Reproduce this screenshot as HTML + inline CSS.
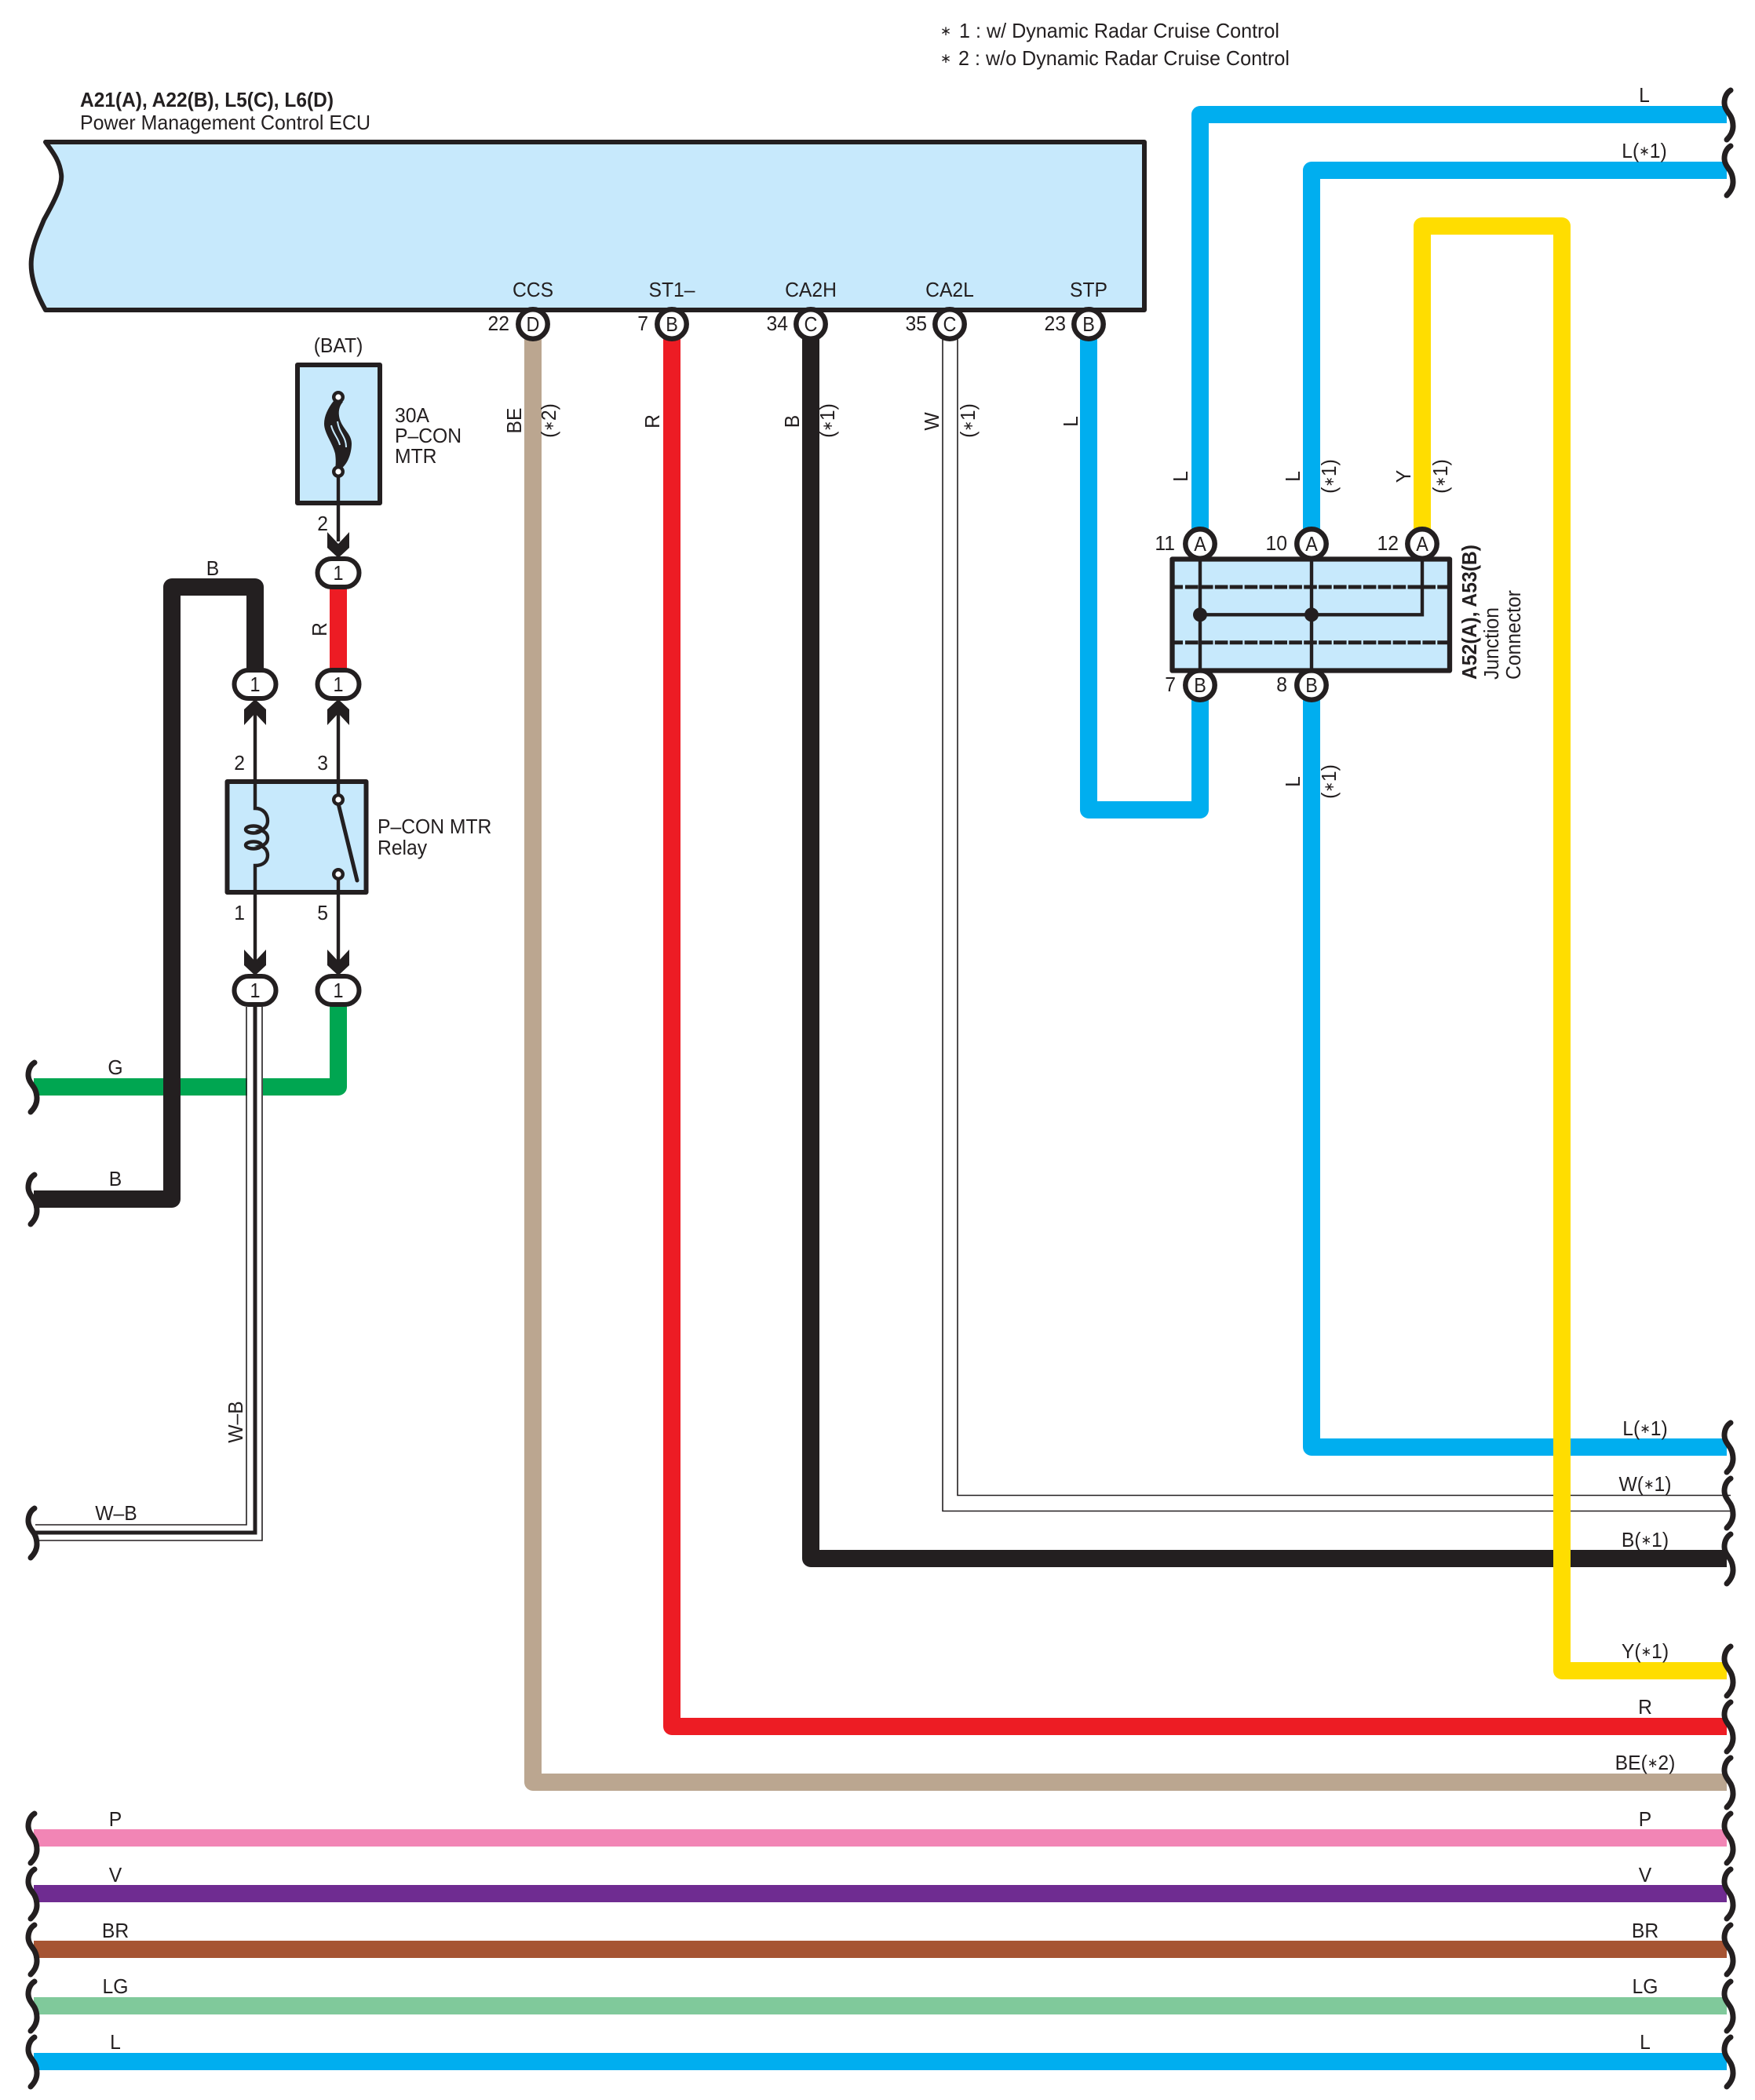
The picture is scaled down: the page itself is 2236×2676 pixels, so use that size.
<!DOCTYPE html>
<html><head><meta charset="utf-8"><style>
html,body{margin:0;padding:0;background:#fff}
svg{display:block}
text{font-family:"Liberation Sans","DejaVu Sans",sans-serif;font-size:26px;fill:#231f20}
.m{text-anchor:middle}.e{text-anchor:end}.b{font-weight:bold}
.s{font-size:17px}
.w{fill:none;stroke-width:22;stroke-linejoin:round}
.t{fill:none;stroke:#231f20;stroke-width:4.4}
.box{fill:#c7e9fc;stroke:#231f20;stroke-width:6;stroke-linejoin:round}
.pin{fill:#fff;stroke:#231f20;stroke-width:6.5}
.con{fill:#fff;stroke:#231f20;stroke-width:6}
.thin{fill:none;stroke:#231f20;stroke-width:1.6}
</style></head><body>
<svg width="2236" height="2676" viewBox="0 0 2236 2676" xmlns="http://www.w3.org/2000/svg">
<defs>
<path id="br" d="M3,-31C-2,-28 -5,-22 -5,-15C-5,-8 0,-3 3,2C5,6 6,10 6,15C6,22 2,28 -2,32" fill="none" stroke="#231f20" stroke-width="7" stroke-linecap="round"/>
<path id="ad" d="M-14,0L0,15L14,0V20L0,33L-14,20Z" fill="#231f20"/>
<path id="au" d="M-14,0L0,-15L14,0V-20L0,-33L-14,-20Z" fill="#231f20"/>
</defs>
<rect width="2236" height="2676" fill="#fff"/>

<!-- ECU -->
<path class="box" d="M58,181H1458V395H58C45,372 38,350 40,330C42,310 50,295 56,280C70,255 80,235 78,222C76,205 68,195 58,181Z"/>

<!-- wires -->
<g class="w">
<path stroke="#00aeef" d="M1529,675V146H2200"/>
<path stroke="#00aeef" d="M1671,675V217H2200"/>
<path stroke="#00aeef" d="M1387,430V1032H1529V888"/>
<path stroke="#00aeef" d="M1671,888V1844H2200"/>
<path stroke="#bba690" d="M679,430V2271H2200"/>
<path stroke="#ed1c24" d="M856,430V2200H2200"/>
<path stroke="#231f20" d="M1033,430V1986H2200"/>
<path stroke="#00a651" d="M43,1385H431V1280"/>
<path stroke="#ed1c24" d="M431,745V855"/>
<path stroke="#231f20" d="M325,855V748H219V1528H43"/>
<path stroke="#f285b5" d="M43,2342H2200"/>
<path stroke="#6f2c91" d="M43,2413H2200"/>
<path stroke="#a65433" d="M43,2484H2200"/>
<path stroke="#80c99b" d="M43,2556H2200"/>
<path stroke="#00aeef" d="M43,2627H2200"/>
</g>
<!-- W double wire -->
<path class="thin" d="M1220,432V1905.500H2205"/>
<path class="thin" d="M1201,432V1925.500H2205"/>
<!-- yellow on top -->
<path class="w" stroke="#ffdd00" d="M1812,675V288H1990V2129H2200"/>
<!-- W-B -->
<path fill="none" stroke="#fff" stroke-width="20" d="M325,1283V1953H45"/>
<path class="thin" d="M314,1283V1943H45"/>
<path class="thin" d="M334,1283V1963H45"/>
<path fill="none" stroke="#231f20" stroke-width="5" d="M325,1283V1953H45"/>

<!-- braces -->
<g>
<use href="#br" x="2202" y="146"/><use href="#br" x="2202" y="217"/>
<use href="#br" x="2202" y="1844"/><use href="#br" x="2202" y="1915"/><use href="#br" x="2202" y="1986"/>
<use href="#br" x="2202" y="2129"/><use href="#br" x="2202" y="2200"/><use href="#br" x="2202" y="2271"/>
<use href="#br" x="2202" y="2342"/><use href="#br" x="2202" y="2413"/><use href="#br" x="2202" y="2484"/>
<use href="#br" x="2202" y="2556"/><use href="#br" x="2202" y="2627"/>
<use href="#br" x="41" y="1385"/><use href="#br" x="41" y="1528"/><use href="#br" x="41" y="1953"/>
<use href="#br" x="41" y="2342"/><use href="#br" x="41" y="2413"/><use href="#br" x="41" y="2484"/>
<use href="#br" x="41" y="2556"/><use href="#br" x="41" y="2627"/>
</g>

<!-- pins -->
<g class="pin">
<circle cx="679" cy="413" r="18.700"/><circle cx="856" cy="413" r="18.700"/><circle cx="1033" cy="413" r="18.700"/>
<circle cx="1210" cy="413" r="18.700"/><circle cx="1387" cy="413" r="18.700"/>
<circle cx="1529" cy="693" r="18.700"/><circle cx="1671" cy="693" r="18.700"/><circle cx="1812" cy="693" r="18.700"/>
<circle cx="1529" cy="873" r="18.700"/><circle cx="1671" cy="873" r="18.700"/>
</g>

<!-- Junction connector -->
<rect x="1493.500" y="712.500" width="353.500" height="142" fill="#c7e9fc"/>
<path d="M1496,748H1507M1496,818.700H1507" stroke="#231f20" stroke-width="5" fill="none"/>
<path d="M1510,748H1847M1510,818.700H1847" stroke="#231f20" stroke-width="5" stroke-dasharray="16.600 2.300" fill="none"/>
<path d="M1529,713V854M1671,713V854M1812,713V783.300H1529" class="t"/>
<circle cx="1529" cy="783.300" r="9" fill="#231f20"/><circle cx="1671" cy="783.300" r="9" fill="#231f20"/>
<rect x="1493.500" y="712.500" width="353.500" height="142" fill="none" stroke="#231f20" stroke-width="6.300" stroke-linejoin="round"/>

<!-- Fuse -->
<rect class="box" x="379" y="465" width="105" height="176"/>
<path class="t" d="M431,607V690"/>
<path d="M425,511C418,520 413,530 413,540C413,552 424,565 427,578C428,585 428,592 427,597L435,597C444,590 448,576 448,565C448,552 434,545 432,530C431,522 433,517 437,512Z" fill="#231f20"/>
<path d="M422,542C424,552 431,558 433,567M430,537C432,552 441,556 441,570" fill="none" stroke="#c7e9fc" stroke-width="2"/>
<circle cx="431" cy="506" r="5.800" fill="#fff" stroke="#231f20" stroke-width="4.400"/>
<circle cx="431" cy="601" r="5.800" fill="#fff" stroke="#231f20" stroke-width="4.400"/>
<use href="#ad" x="431" y="678"/>

<!-- Relay -->
<rect class="box" x="289.500" y="996" width="177" height="141"/>
<path class="t" d="M325,905V1030C336,1030 341,1038 341,1046C341,1052 338,1056 332,1058C339,1060 341,1064 341,1068C341,1072 339,1076 332,1078C339,1080 341,1086 341,1090C341,1097 336,1103 325,1103V1226"/>
<ellipse cx="323" cy="1057" rx="10" ry="4.500" class="t"/><ellipse cx="323" cy="1077" rx="10" ry="4.500" class="t"/>
<path class="t" d="M431,905V1013M431,1120V1226"/>
<path d="M431,1024L455,1122" stroke="#231f20" stroke-width="5" stroke-linecap="round" fill="none"/>
<circle cx="431" cy="1019" r="5.800" fill="#fff" stroke="#231f20" stroke-width="4.400"/>
<circle cx="431" cy="1114" r="5.800" fill="#fff" stroke="#231f20" stroke-width="4.400"/>
<use href="#au" x="325" y="924"/><use href="#au" x="431" y="924"/>
<use href="#ad" x="325" y="1210"/><use href="#ad" x="431" y="1210"/>

<!-- connectors -->
<g class="con">
<rect x="404.500" y="712" width="53" height="36" rx="18"/>
<rect x="298.500" y="854" width="53" height="36" rx="18"/>
<rect x="404.500" y="854" width="53" height="36" rx="18"/>
<rect x="298.500" y="1244" width="53" height="36" rx="18"/>
<rect x="404.500" y="1244" width="53" height="36" rx="18"/>
</g>

<!-- TEXT -->
<text class="s" x="1205" y="45" text-anchor="middle">∗</text>
<text class="s" x="1205" y="80" text-anchor="middle">∗</text>
<text x="1222" y="48" textLength="408" lengthAdjust="spacingAndGlyphs">1 : w/ Dynamic Radar Cruise Control</text>
<text x="1221" y="83" textLength="422" lengthAdjust="spacingAndGlyphs">2 : w/o Dynamic Radar Cruise Control</text>
<text class="b" transform="translate(102,136)" textLength="323" lengthAdjust="spacingAndGlyphs">A21(A), A22(B), L5(C), L6(D)</text>
<text transform="translate(102,165)" textLength="370" lengthAdjust="spacingAndGlyphs">Power Management Control ECU</text>

<g class="m">
<text transform="translate(679,378) scale(.95 1)">CCS</text>
<text transform="translate(856,378) scale(.95 1)">ST1–</text>
<text transform="translate(1033,378) scale(.95 1)">CA2H</text>
<text transform="translate(1210,378) scale(.95 1)">CA2L</text>
<text transform="translate(1387,378) scale(.95 1)">STP</text>
<text transform="translate(679,422) scale(.9 1)">D</text>
<text transform="translate(856,422) scale(.9 1)">B</text>
<text transform="translate(1033,422) scale(.9 1)">C</text>
<text transform="translate(1210,422) scale(.9 1)">C</text>
<text transform="translate(1387,422) scale(.9 1)">B</text>
<text transform="translate(1529,702) scale(.9 1)">A</text>
<text transform="translate(1671,702) scale(.9 1)">A</text>
<text transform="translate(1812,702) scale(.9 1)">A</text>
<text transform="translate(1529,882) scale(.9 1)">B</text>
<text transform="translate(1671,882) scale(.9 1)">B</text>
<text transform="translate(431,449) scale(.95 1)">(BAT)</text>
<text transform="translate(431,739) scale(.9 1)">1</text>
<text transform="translate(325,881) scale(.9 1)">1</text>
<text transform="translate(431,881) scale(.9 1)">1</text>
<text transform="translate(325,1271) scale(.9 1)">1</text>
<text transform="translate(431,1271) scale(.9 1)">1</text>
<text transform="translate(271,733) scale(.95 1)">B</text>
<text transform="translate(147,1369) scale(.95 1)">G</text>
<text transform="translate(147,1511) scale(.95 1)">B</text>
<text transform="translate(148,1937) scale(.95 1)">W–B</text>
<text transform="translate(2095,130) scale(.95 1)">L</text>
<text transform="translate(2095,201) scale(.95 1)">L(<tspan class="s" dy="-3">∗</tspan><tspan dy="3">1)</tspan></text>
<text transform="translate(2096,1829) scale(.95 1)">L(<tspan class="s" dy="-3">∗</tspan><tspan dy="3">1)</tspan></text>
<text transform="translate(2096,1900) scale(.95 1)">W(<tspan class="s" dy="-3">∗</tspan><tspan dy="3">1)</tspan></text>
<text transform="translate(2096,1971) scale(.95 1)">B(<tspan class="s" dy="-3">∗</tspan><tspan dy="3">1)</tspan></text>
<text transform="translate(2096,2113) scale(.95 1)">Y(<tspan class="s" dy="-3">∗</tspan><tspan dy="3">1)</tspan></text>
<text transform="translate(2096,2184) scale(.95 1)">R</text>
<text transform="translate(2096,2255) scale(.95 1)">BE(<tspan class="s" dy="-3">∗</tspan><tspan dy="3">2)</tspan></text>
<text transform="translate(2096,2327) scale(.95 1)">P</text>
<text transform="translate(2096,2398) scale(.95 1)">V</text>
<text transform="translate(2096,2469) scale(.95 1)">BR</text>
<text transform="translate(2096,2540) scale(.95 1)">LG</text>
<text transform="translate(2096,2611) scale(.95 1)">L</text>
<text transform="translate(147,2327) scale(.95 1)">P</text>
<text transform="translate(147,2398) scale(.95 1)">V</text>
<text transform="translate(147,2469) scale(.95 1)">BR</text>
<text transform="translate(147,2540) scale(.95 1)">LG</text>
<text transform="translate(147,2611) scale(.95 1)">L</text>
<!-- rotated -->
<text transform="translate(664,536) rotate(-90) scale(.95 1)">BE</text>
<text transform="translate(708,536) rotate(-90) scale(.95 1)">(<tspan class="s" dy="-3">∗</tspan><tspan dy="3">2)</tspan></text>
<text transform="translate(840,537) rotate(-90) scale(.95 1)">R</text>
<text transform="translate(1018,537) rotate(-90) scale(.95 1)">B</text>
<text transform="translate(1063,536) rotate(-90) scale(.95 1)">(<tspan class="s" dy="-3">∗</tspan><tspan dy="3">1)</tspan></text>
<text transform="translate(1196,537) rotate(-90) scale(.95 1)">W</text>
<text transform="translate(1242,536) rotate(-90) scale(.95 1)">(<tspan class="s" dy="-3">∗</tspan><tspan dy="3">1)</tspan></text>
<text transform="translate(1373,537) rotate(-90) scale(.95 1)">L</text>
<text transform="translate(1513,607) rotate(-90) scale(.95 1)">L</text>
<text transform="translate(1656,607) rotate(-90) scale(.95 1)">L</text>
<text transform="translate(1702,607) rotate(-90) scale(.95 1)">(<tspan class="s" dy="-3">∗</tspan><tspan dy="3">1)</tspan></text>
<text transform="translate(1797,607) rotate(-90) scale(.95 1)">Y</text>
<text transform="translate(1844,607) rotate(-90) scale(.95 1)">(<tspan class="s" dy="-3">∗</tspan><tspan dy="3">1)</tspan></text>
<text transform="translate(1656,996) rotate(-90) scale(.95 1)">L</text>
<text transform="translate(1702,996) rotate(-90) scale(.95 1)">(<tspan class="s" dy="-3">∗</tspan><tspan dy="3">1)</tspan></text>
<text transform="translate(416,802) rotate(-90) scale(.95 1)">R</text>
<text transform="translate(309,1812) rotate(-90) scale(.95 1)">W–B</text>
</g>

<g class="e">
<text transform="translate(649,421) scale(.95 1)">22</text>
<text transform="translate(826,421) scale(.95 1)">7</text>
<text transform="translate(1004,421) scale(.95 1)">34</text>
<text transform="translate(1181,421) scale(.95 1)">35</text>
<text transform="translate(1358,421) scale(.95 1)">23</text>
<text transform="translate(1497,701) scale(.95 1)">11</text>
<text transform="translate(1640,701) scale(.95 1)">10</text>
<text transform="translate(1782,701) scale(.95 1)">12</text>
<text transform="translate(1498,881) scale(.95 1)">7</text>
<text transform="translate(1640,881) scale(.95 1)">8</text>
<text transform="translate(418,676) scale(.95 1)">2</text>
<text transform="translate(312,981) scale(.95 1)">2</text>
<text transform="translate(418,981) scale(.95 1)">3</text>
<text transform="translate(312,1172) scale(.95 1)">1</text>
<text transform="translate(418,1172) scale(.95 1)">5</text>
</g>

<text transform="translate(503,538) scale(.95 1)">30A</text>
<text transform="translate(503,564) scale(.95 1)">P–CON</text>
<text transform="translate(503,590) scale(.95 1)">MTR</text>
<text transform="translate(481,1062) scale(.95 1)">P–CON MTR</text>
<text transform="translate(481,1089) scale(.95 1)">Relay</text>

<text class="b" transform="translate(1881,866) rotate(-90)" textLength="172" lengthAdjust="spacingAndGlyphs">A52(A), A53(B)</text>
<text transform="translate(1909,866) rotate(-90) scale(.95 1)">Junction</text>
<text transform="translate(1937,866) rotate(-90) scale(.95 1)">Connector</text>
</svg>
</body></html>
